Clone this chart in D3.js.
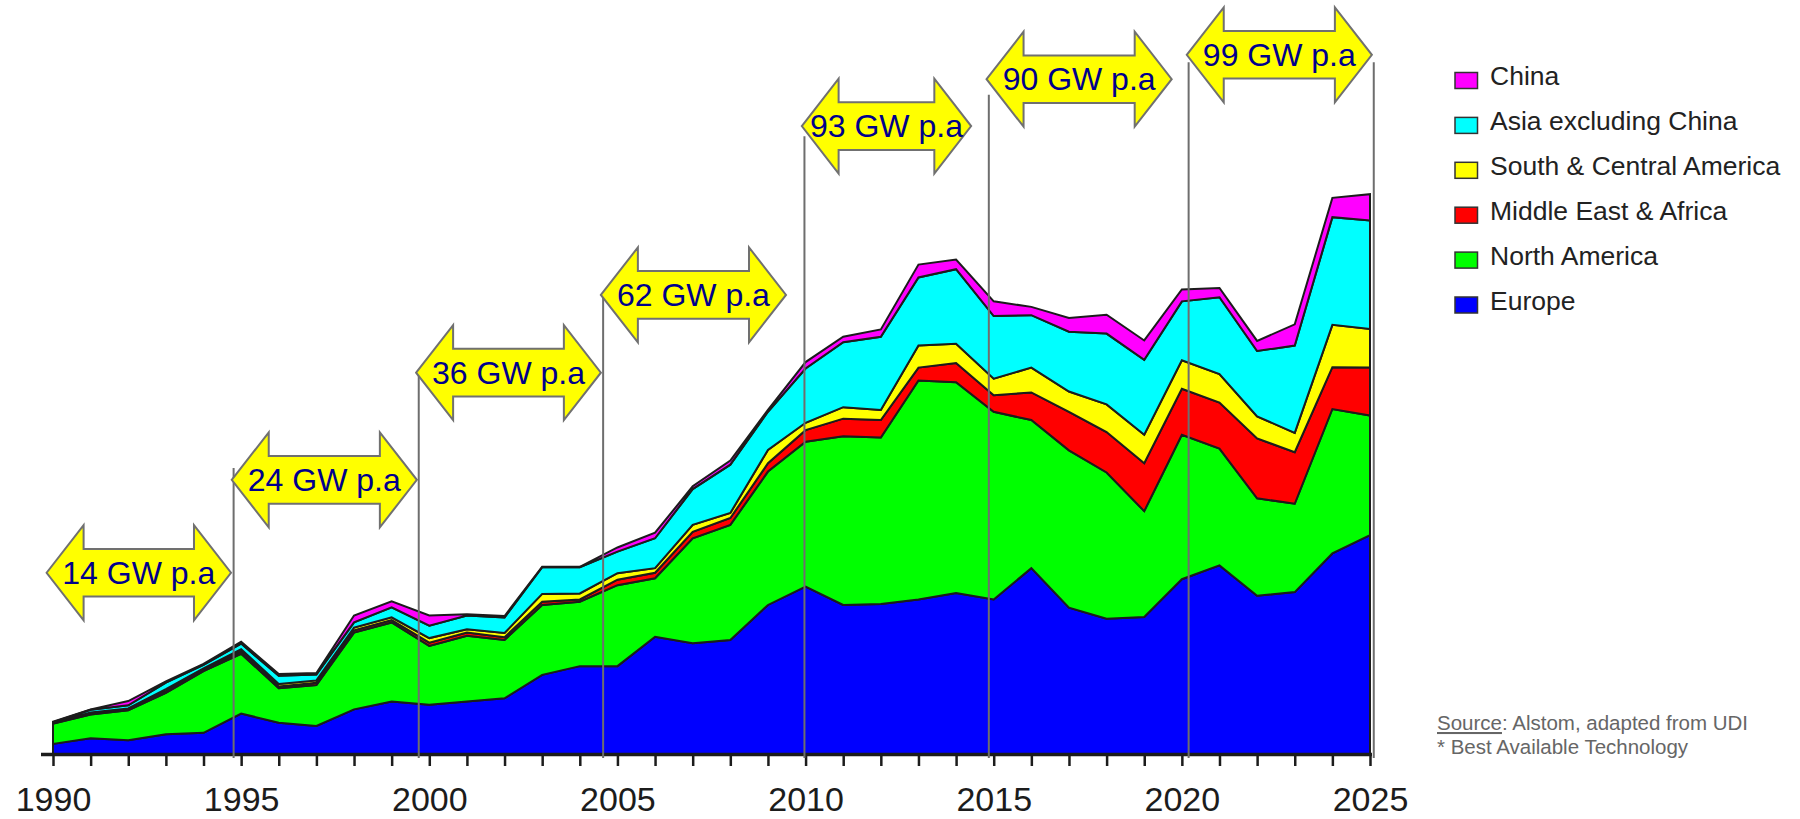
<!DOCTYPE html>
<html lang="en">
  <head>
    <meta charset="utf-8">
    <title>Capacity additions by region</title>
    <script src="https://d3js.org/d3.v7.min.js"></script>
    <style>
      body { margin: 0; background: #fff; }
      text { font-family: "Liberation Sans", Arial, sans-serif; }
    </style>
  </head>

  <body>

  <script>

// Data (GW per year)

  var years = d3.range(1990, 2026);

  var europe =       [2.2, 3.4, 3.0, 4.3, 4.6, 8.8, 6.8, 6.1, 9.7, 11.4, 10.7, 11.4, 12.1, 17.2, 19.1, 19.1, 25.5, 24.1, 24.8, 32.4, 36.4, 32.4, 32.6, 33.6, 35.0, 33.6, 40.4, 31.8, 29.4, 29.8, 38.0, 41.0, 34.4, 35.2, 43.6, 47.6];
  var northAmerica = [4.4, 5.2, 6.5, 9.0, 13.4, 13.0, 7.5, 8.9, 16.7, 17.2, 12.8, 14.3, 12.7, 15.2, 14.0, 17.6, 12.7, 22.8, 25.0, 29.0, 31.5, 36.7, 36.2, 47.6, 45.8, 40.8, 32.2, 34.2, 31.8, 23.0, 31.4, 25.4, 21.2, 19.2, 31.4, 26.0];
  var middleEast =   [0.1, 0.2, 0.2, 0.3, 0.3, 0.5, 0.4, 0.5, 0.5, 0.5, 0.7, 0.7, 0.6, 0.7, 0.5, 1.2, 1.2, 1.4, 1.5, 1.8, 2.5, 3.8, 3.8, 2.8, 4.2, 3.6, 6.0, 8.4, 8.8, 10.4, 10.0, 10.0, 13.0, 11.2, 9.1, 10.4];
  var southAmerica = [0.1, 0.2, 0.2, 0.5, 0.3, 0.5, 0.5, 0.5, 0.6, 0.6, 1.0, 0.7, 0.9, 1.7, 1.3, 1.4, 1.0, 1.5, 1.1, 2.9, 1.6, 2.5, 2.2, 4.8, 4.2, 3.6, 5.4, 4.4, 6.0, 6.2, 6.2, 6.2, 4.8, 4.2, 9.2, 8.4];
  var asia =         [0.1, 0.6, 0.7, 1.4, 0.8, 1.2, 1.8, 1.3, 1.1, 2.2, 2.7, 3.0, 3.4, 5.8, 5.7, 4.7, 6.5, 7.8, 10.5, 8.3, 11.8, 14.1, 15.9, 14.8, 16.2, 13.6, 11.4, 13.0, 15.4, 16.3, 12.8, 16.7, 14.2, 19.0, 23.4, 23.6];
  var china =        [0.1, 0.1, 0.9, 0.3, 0.2, 0.4, 0.4, 0.3, 1.5, 1.3, 2.2, 0.3, 0.3, 0.1, 0.1, 0.9, 1.2, 0.6, 0.9, 0.4, 1.4, 1.2, 1.6, 2.8, 2.1, 3.2, 1.8, 3.0, 4.1, 4.2, 2.6, 2.0, 2.2, 4.6, 4.2, 5.7];

  var keys =   ["europe", "northAmerica", "middleEast", "southAmerica", "asia", "china"];
  var names =  ["Europe", "North America", "Middle East & Africa", "South & Central America", "Asia excluding China", "China"];
  var colors = ["#0000ff", "#00ff00", "#ff0000", "#ffff00", "#00ffff", "#ff00ff"];

  // period averages: label, start / end year of the arrow, level in GW
  var periodLabels = ["14 GW p.a", "24 GW p.a", "36 GW p.a", "62 GW p.a", "93 GW p.a", "90 GW p.a", "99 GW p.a"];
  var periodFrom =   [1989.83, 1994.75, 1999.65, 2004.56, 2009.9, 2014.81, 2020.13];
  var periodTo =     [1994.73, 1999.67, 2004.56, 2009.48, 2014.4, 2019.73, 2025.05];
  var periodLevel =  [39.4, 59.6, 82.9, 99.8, 136.5, 146.7, 152.0];

  // vertical period separators
  var guideYears = [1994.8, 1999.72, 2004.62, 2009.97, 2014.87, 2020.18, 2025.1];
  var guideTop =   [62.2, 82.8, 99.8, 134.3, 143.3, 150.4, 150.4];

  var table = years.map(function(yr, i) {
      return {year: yr, europe: europe[i], northAmerica: northAmerica[i],
          middleEast: middleEast[i], southAmerica: southAmerica[i],
          asia: asia[i], china: china[i]};
  });

// Svg

  var w = 1800;
  var h = 819;

  var svg = d3.select("body")
    .append("svg")
      .attr("width", w)
      .attr("height", h);

  svg.append("rect")
      .attr("width", w)
      .attr("height", h)
      .attr("fill", "#fff");

  var xScale = d3.scaleLinear()
      .domain([1990, 2025])
      .range([53, 1370]);

  var yScale = d3.scaleLinear()
      .domain([0, 130])
      .range([754, 156]);

  var series = d3.stack().keys(keys)(table);

  var area = d3.area()
      .x(d => xScale(d.data.year))
      .y0(d => yScale(d[0]))
      .y1(d => yScale(d[1]));

  svg.append("g")
      .attr("id", "areas")
    .selectAll("path")
      .data(series)
    .enter().append("path")
      .attr("d", area)
      .attr("fill", (d, i) => colors[i])
      .attr("stroke", "#1c1c1c")
      .attr("stroke-width", 2)
      .attr("stroke-linejoin", "miter");

// Axis

  var xAxis = d3.axisBottom(xScale)
      .tickValues(years)
      .tickSize(12)
      .tickSizeOuter(0)
      .tickPadding(21)
      .tickFormat(d => d % 5 === 0 ? d : "");

  var gx = svg.append("g")
      .attr("class", "xAxis")
      .attr("transform", "translate(0, 754)")
      .call(xAxis);

  gx.select(".domain").remove();
  gx.selectAll(".tick line")
      .attr("stroke", "#1c1c1c")
      .attr("stroke-width", 2.5);
  gx.selectAll(".tick text")
      .attr("fill", "#1c1c1c")
      .style("font-size", "34px")
      .style("font-family", "'Liberation Sans', Arial, sans-serif");

  svg.append("line")
      .attr("x1", xScale(1990) - 12)
      .attr("x2", xScale(2025) + 2)
      .attr("y1", 754.5)
      .attr("y2", 754.5)
      .attr("stroke", "#1c1c1c")
      .attr("stroke-width", 3.5);

// Period guides and arrows

  svg.append("g")
    .selectAll("line")
      .data(guideYears)
    .enter().append("line")
      .attr("x1", d => xScale(d))
      .attr("x2", d => xScale(d))
      .attr("y1", (d, i) => yScale(guideTop[i]))
      .attr("y2", yScale(0) + 4)
      .attr("stroke", "#6e6e6e")
      .attr("stroke-width", 2);

  function arrowPath(x0, x1, cy) {
      var hl = Math.min(37, (x1 - x0) / 4.6), hh = 47.5, hs = 23.8;
      return d3.line()([
          [x0, cy], [x0 + hl, cy - hh], [x0 + hl, cy - hs], [x1 - hl, cy - hs],
          [x1 - hl, cy - hh], [x1, cy], [x1 - hl, cy + hh], [x1 - hl, cy + hs],
          [x0 + hl, cy + hs], [x0 + hl, cy + hh]
      ]) + "Z";
  }

  var arrows = svg.append("g")
    .selectAll("g")
      .data(periodLabels)
    .enter().append("g");

  arrows.append("path")
      .attr("d", (d, i) => arrowPath(xScale(periodFrom[i]), xScale(periodTo[i]), yScale(periodLevel[i])))
      .attr("fill", "#ffff00")
      .attr("stroke", "#707070")
      .attr("stroke-width", 2)
      .attr("stroke-linejoin", "miter");

  arrows.append("text")
      .attr("x", (d, i) => (xScale(periodFrom[i]) + xScale(periodTo[i])) / 2)
      .attr("y", (d, i) => yScale(periodLevel[i]))
      .attr("dy", "0.35em")
      .attr("text-anchor", "middle")
      .attr("fill", "#00008c")
      .style("font-size", "32px")
      .text(d => d);

// Legend

  var legendOrder = [5, 4, 3, 2, 1, 0];

  var legend = svg.append("g")
      .attr("transform", "translate(1455, 72.5)")
    .selectAll("g")
      .data(legendOrder)
    .enter().append("g")
      .attr("transform", (d, i) => `translate(0, ${i * 44.9})`);

  legend.append("rect")
      .attr("width", 22.5)
      .attr("height", 16)
      .attr("fill", d => colors[d])
      .attr("stroke", "#333")
      .attr("stroke-width", 1.5);

  legend.append("text")
      .attr("x", 35)
      .attr("y", 12.7)
      .attr("fill", "#222")
      .style("font-size", "26.5px")
      .text(d => names[d]);

// Source note

  var note = svg.append("text")
      .attr("x", 1437)
      .attr("y", 730)
      .attr("fill", "#666")
      .style("font-size", "20.5px");

  note.append("tspan")
      .style("text-decoration", "underline")
      .text("Source");
  note.append("tspan")
      .text(": Alstom, adapted from UDI");

  svg.append("text")
      .attr("x", 1437)
      .attr("y", 754)
      .attr("fill", "#666")
      .style("font-size", "20.5px")
      .text("* Best Available Technology");

    </script>

  </body>

</html>
